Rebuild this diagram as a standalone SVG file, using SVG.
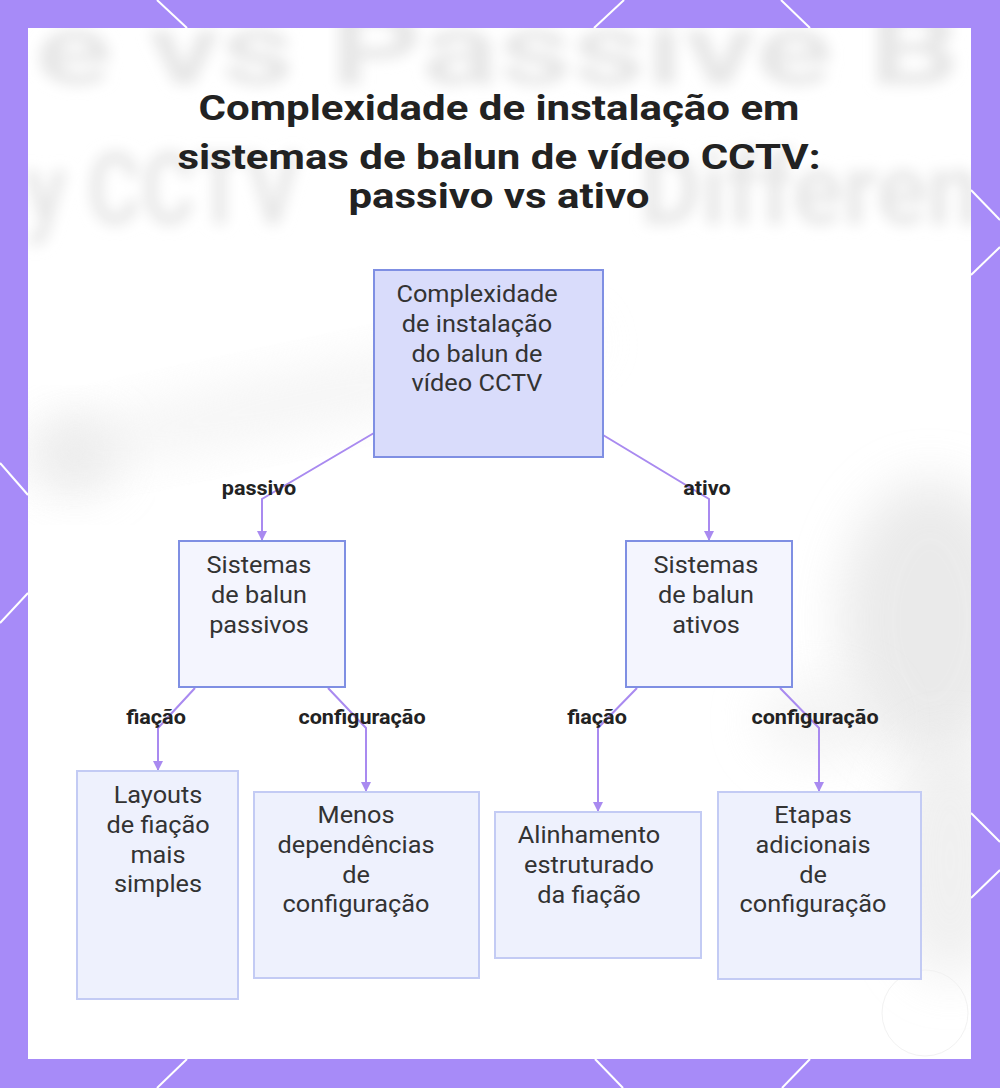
<svg xmlns="http://www.w3.org/2000/svg" width="1000" height="1088" viewBox="0 0 1000 1088">
  <defs>
    <style>
      .title { font-family: Roboto, "Liberation Sans", sans-serif; font-weight: 700; font-size: 35px; fill: #222222; text-anchor: middle; }
      .ntext { font-family: Roboto, "Liberation Sans", sans-serif; font-size: 23px; fill: #333333; text-anchor: middle; }
      .elabel { font-family: Roboto, "Liberation Sans", sans-serif; font-weight: 700; font-size: 20px; fill: #222222; text-anchor: middle; }
      .wm { font-family: Roboto, "Liberation Sans", sans-serif; font-weight: 700; font-size: 100px; fill: #e7e7e7; }
      .root { fill: #d9dcfb; stroke: #7f8fe3; stroke-width: 2; }
      .mid { fill: #f4f5fe; stroke: #7f8fe3; stroke-width: 2; }
      .leaf { fill: #eef1fd; stroke: #c3cbf4; stroke-width: 2; }
      .edge { fill: none; stroke: #a98af0; stroke-width: 2; }
      .hex { stroke: #ffffff; stroke-width: 2; fill: none; }
    </style>
    <marker id="arrow" viewBox="0 0 10 10" refX="9" refY="5" markerWidth="5" markerHeight="5" orient="auto">
      <path d="M0,0 L10,5 L0,10 z" fill="#a98af0"/>
    </marker>
    <filter id="blur8" x="-20%" y="-20%" width="140%" height="140%">
      <feGaussianBlur stdDeviation="7"/>
    </filter>
    <filter id="blur30" x="-50%" y="-50%" width="200%" height="200%">
      <feGaussianBlur stdDeviation="25"/>
    </filter>
    <clipPath id="panel">
      <rect x="28" y="28" width="943" height="1031"/>
    </clipPath>
  </defs>

  <!-- border -->
  <rect x="0" y="0" width="1000" height="1088" fill="#a78bf8"/>
  <g id="border-lines" class="hex">
    <line x1="157" y1="0" x2="187" y2="28"/>
    <line x1="624" y1="0" x2="594" y2="28"/>
    <line x1="781" y1="0" x2="810" y2="28"/>
    <line x1="187" y1="1059" x2="157" y2="1088"/>
    <line x1="595" y1="1059" x2="623" y2="1088"/>
    <line x1="810" y1="1059" x2="782" y2="1088"/>
    <line x1="0" y1="463" x2="28" y2="495"/>
    <line x1="0" y1="623" x2="28" y2="593"/>
    <line x1="971" y1="190" x2="1000" y2="220"/>
    <line x1="971" y1="275" x2="1000" y2="247"/>
    <line x1="971" y1="813" x2="1000" y2="842"/>
    <line x1="971" y1="898" x2="1000" y2="870"/>
  </g>

  <!-- panel -->
  <rect x="28" y="28" width="943" height="1031" fill="#ffffff"/>
  <g id="background" clip-path="url(#panel)">
    <ellipse cx="75" cy="455" rx="40" ry="35" fill="#d8d8d8" opacity="0.6" filter="url(#blur30)"/>
    <ellipse cx="300" cy="400" rx="300" ry="30" fill="#eeeeee" opacity="0.6" filter="url(#blur30)" transform="rotate(-12 300 400)"/>
    <ellipse cx="930" cy="620" rx="90" ry="140" fill="#e2e2e2" opacity="0.7" filter="url(#blur30)"/>
    <ellipse cx="950" cy="860" rx="60" ry="120" fill="#e6e6e6" opacity="0.6" filter="url(#blur30)"/>
    <ellipse cx="820" cy="720" rx="60" ry="40" fill="#ececec" opacity="0.6" filter="url(#blur30)"/>
    <circle cx="925" cy="1013" r="43" fill="none" stroke="#f2f2f2" stroke-width="1"/>
    <g filter="url(#blur8)">
      <text class="wm" x="35" y="84" textLength="925" lengthAdjust="spacingAndGlyphs">e vs Passive B</text>
      <text class="wm" x="25" y="224" textLength="275" lengthAdjust="spacingAndGlyphs">y CCTV</text>
      <text class="wm" x="640" y="224" textLength="340" lengthAdjust="spacingAndGlyphs">Differen</text>
    </g>
  </g>

  <!-- title -->
  <g id="title" transform="translate(499 0) scale(1.2 1)">
    <text class="title" x="0" y="120">Complexidade de instalação em</text>
    <text class="title" x="0" y="169">sistemas de balun de vídeo CCTV:</text>
    <text class="title" x="0" y="208">passivo vs ativo</text>
  </g>

  <!-- connectors -->
  <g id="connectors">
    <polyline class="edge" points="374,433 262,499 262,540" marker-end="url(#arrow)"/>
    <polyline class="edge" points="603,435 709,499 709,540" marker-end="url(#arrow)"/>
    <polyline class="edge" points="195,688 158,728 158,770" marker-end="url(#arrow)"/>
    <polyline class="edge" points="328,688 366,728 366,791" marker-end="url(#arrow)"/>
    <polyline class="edge" points="637,688 598,728 598,811" marker-end="url(#arrow)"/>
    <polyline class="edge" points="780,688 819,728 819,791" marker-end="url(#arrow)"/>
    <g transform="translate(259 0) scale(1.08 1)"><text class="elabel" x="0" y="495">passivo</text></g>
    <g transform="translate(707 0) scale(1.08 1)"><text class="elabel" x="0" y="495">ativo</text></g>
    <g transform="translate(156 0) scale(1.08 1)"><text class="elabel" x="0" y="724">fiação</text></g>
    <g transform="translate(362 0) scale(1.08 1)"><text class="elabel" x="0" y="724">configuração</text></g>
    <g transform="translate(597 0) scale(1.08 1)"><text class="elabel" x="0" y="724">fiação</text></g>
    <g transform="translate(815 0) scale(1.08 1)"><text class="elabel" x="0" y="724">configuração</text></g>
  </g>

  <!-- nodes -->
  <g id="node-root">
    <rect class="root" x="374" y="270" width="229" height="187"/>
    <g transform="translate(477 0) scale(1.1 1)">
      <text class="ntext" x="0" y="302">Complexidade</text>
      <text class="ntext" x="0" y="332">de instalação</text>
      <text class="ntext" x="0" y="362">do balun de</text>
      <text class="ntext" x="0" y="391">vídeo CCTV</text>
    </g>
  </g>
  <g id="node-passivos">
    <rect class="mid" x="179" y="541" width="166" height="146"/>
    <g transform="translate(259 0) scale(1.1 1)">
      <text class="ntext" x="0" y="573">Sistemas</text>
      <text class="ntext" x="0" y="603">de balun</text>
      <text class="ntext" x="0" y="633">passivos</text>
    </g>
  </g>
  <g id="node-ativos">
    <rect class="mid" x="626" y="541" width="166" height="146"/>
    <g transform="translate(706 0) scale(1.1 1)">
      <text class="ntext" x="0" y="573">Sistemas</text>
      <text class="ntext" x="0" y="603">de balun</text>
      <text class="ntext" x="0" y="633">ativos</text>
    </g>
  </g>
  <g id="node-layouts">
    <rect class="leaf" x="77" y="771" width="161" height="228"/>
    <g transform="translate(158 0) scale(1.1 1)">
      <text class="ntext" x="0" y="803">Layouts</text>
      <text class="ntext" x="0" y="833">de fiação</text>
      <text class="ntext" x="0" y="863">mais</text>
      <text class="ntext" x="0" y="892">simples</text>
    </g>
  </g>
  <g id="node-menos">
    <rect class="leaf" x="254" y="792" width="225" height="186"/>
    <g transform="translate(356 0) scale(1.1 1)">
      <text class="ntext" x="0" y="823">Menos</text>
      <text class="ntext" x="0" y="853">dependências</text>
      <text class="ntext" x="0" y="883">de</text>
      <text class="ntext" x="0" y="912">configuração</text>
    </g>
  </g>
  <g id="node-alinhamento">
    <rect class="leaf" x="495" y="812" width="206" height="146"/>
    <g transform="translate(589 0) scale(1.1 1)">
      <text class="ntext" x="0" y="843">Alinhamento</text>
      <text class="ntext" x="0" y="873">estruturado</text>
      <text class="ntext" x="0" y="903">da fiação</text>
    </g>
  </g>
  <g id="node-etapas">
    <rect class="leaf" x="718" y="792" width="203" height="187"/>
    <g transform="translate(813 0) scale(1.1 1)">
      <text class="ntext" x="0" y="823">Etapas</text>
      <text class="ntext" x="0" y="853">adicionais</text>
      <text class="ntext" x="0" y="883">de</text>
      <text class="ntext" x="0" y="912">configuração</text>
    </g>
  </g>
</svg>
